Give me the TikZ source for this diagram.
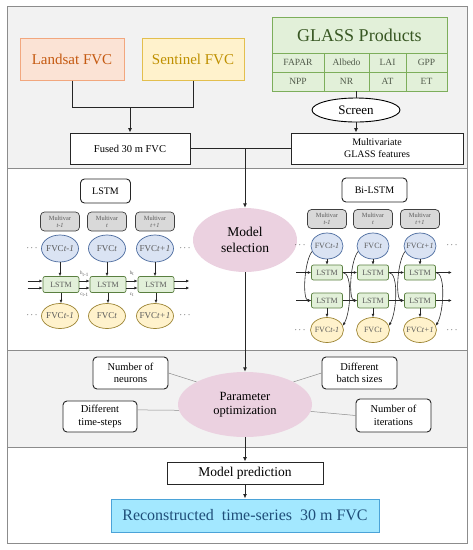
\documentclass[tikz,border=0pt]{standalone}
\usepackage{fontspec}
\setmainfont{Liberation Serif}
\usetikzlibrary{arrows.meta, positioning, shapes.geometric, calc}
\definecolor{bggray}{HTML}{F2F2F2}
\definecolor{framegray}{HTML}{8C8C8C}
\definecolor{lsfill}{HTML}{FBE3D5}
\definecolor{lsdraw}{HTML}{F2A77E}
\definecolor{lstext}{HTML}{C55A11}
\definecolor{snfill}{HTML}{FFF2CC}
\definecolor{sndraw}{HTML}{E3BF4E}
\definecolor{sntext}{HTML}{BF9000}
\definecolor{glfill}{HTML}{E2F0D9}
\definecolor{gldraw}{HTML}{7DAE5B}
\definecolor{gltext}{HTML}{385723}
\definecolor{celltext}{HTML}{505A4A}
\definecolor{mvfill}{HTML}{D9D9D9}
\definecolor{panelgray}{HTML}{595959}
\definecolor{infill}{HTML}{DAE3F3}
\definecolor{indraw}{HTML}{4A6A9E}
\definecolor{cellfill}{HTML}{E2F0D9}
\definecolor{celldraw}{HTML}{5A7F40}
\definecolor{outfill}{HTML}{FFF2CC}
\definecolor{outdraw}{HTML}{9C8433}
\definecolor{pinkfill}{HTML}{EBD1E0}
\definecolor{recfill}{HTML}{A3E8FF}
\definecolor{recdraw}{HTML}{4BA3D8}
\definecolor{rectext}{HTML}{1F4E79}

\tikzset{
  srcbox/.style={draw, line width=1pt, minimum height=42pt, inner sep=0pt, font=\fontsize{15}{17}\selectfont},
  glasscell/.style={draw=gldraw, fill=glfill, line width=0.8pt, minimum height=19pt, inner sep=0pt, text=celltext, font=\fontsize{9.5}{11}\selectfont},
  plainbox/.style={draw=black!85, fill=white, line width=0.9pt, inner sep=0pt, align=center, font=\fontsize{10.5}{12}\selectfont},
  parambox/.style={plainbox, rounded corners=4pt, minimum width=75pt, minimum height=32pt, font=\fontsize{10.5}{12.5}\selectfont},
  titlebox/.style={plainbox, rounded corners=4pt, minimum height=24pt, font=\fontsize{10}{12}\selectfont},
  pinkell/.style={ellipse, fill=pinkfill, inner sep=0pt, align=center},
  multibox/.style={draw=black!75, fill=mvfill, rounded corners=4pt, line width=0.7pt, minimum width=39pt, minimum height=19pt, inner sep=0pt, align=center, text=panelgray, font=\fontsize{6.3}{6.8}\selectfont},
  inell/.style={ellipse, draw=indraw, fill=infill, line width=0.7pt, minimum width=37pt, minimum height=27pt, inner ysep=0pt, inner xsep=-2.5pt, text=panelgray, font=\fontsize{9}{10}\selectfont},
  outell/.style={inell, draw=outdraw, fill=outfill, minimum height=25pt},
  lstmbox/.style={draw=celldraw, fill=cellfill, rounded corners=2pt, line width=0.7pt, minimum width=36pt, minimum height=16pt, inner sep=0pt, text=panelgray, font=\fontsize{8}{9}\selectfont},
  hclabel/.style={inner sep=0pt, text=panelgray, font=\fontsize{5}{5}\selectfont},
  dots/.style={inner sep=0pt, font=\bfseries\small},
  flow/.style={draw=black!85, line width=0.9pt},
  flowarrow/.style={flow, -{Latex[length=4.5pt, width=4pt]}},
  smallarrow/.style={draw=black!85, line width=0.6pt, -{Latex[length=3.2pt, width=2.8pt]}},
  spoke/.style={draw=black!45, line width=0.5pt}
}

\begin{document}
\begin{tikzpicture}[x=1pt, y=-1pt]
  \useasboundingbox (0,0) rectangle (473,550);

  % Bands and frame
  \fill[bggray] (7,6) rectangle (467,168);
  \fill[bggray] (7,350) rectangle (467,447);
  \draw[framegray, line width=0.8pt] (7,6) rectangle (467,543);
  \draw[framegray, line width=0.8pt] (7,168) -- (467,168);
  \draw[framegray, line width=0.8pt] (7,350) -- (467,350);
  \draw[framegray, line width=0.8pt] (7,447) -- (467,447);

  % Data sources
  \node[srcbox, draw=lsdraw, fill=lsfill, text=lstext, minimum width=104pt] (landsat) at (72,59) {Landsat FVC};
  \node[srcbox, draw=sndraw, fill=snfill, text=sntext, minimum width=102pt] (sentinel) at (193,59) {Sentinel FVC};

  % GLASS table
  \node[glasscell, minimum width=175pt, minimum height=36pt, text=gltext, font=\fontsize{18}{20}\selectfont] (glass) at (359.5,35) {GLASS Products};
  \foreach \name/\txt/\x/\w/\y in {gfapar/FAPAR/298/52/62.5, galbedo/Albedo/346.5/45/62.5, glai/LAI/387.5/37/62.5, ggpp/GPP/426.5/41/62.5,
                                   gnpp/NPP/298/52/81.5, gnr/NR/346.5/45/81.5, gat/AT/387.5/37/81.5, get/ET/426.5/41/81.5}
    \node[glasscell, minimum width=\w pt] (\name) at (\x,\y) {\txt};

  \node[ellipse, draw=black, fill=white, line width=0.9pt, minimum width=88pt, minimum height=24pt, inner sep=0pt, font=\fontsize{13}{15}\selectfont] (screen) at (356,110) {Screen};
  \node[plainbox, minimum width=120pt, minimum height=31pt] (fused) at (130,148.5) {Fused 30 m FVC};
  \node[plainbox, minimum width=172pt, minimum height=31pt, font=\fontsize{10}{12}\selectfont] (multi) at (377,148.5) {Multivariate\\GLASS features};

  \coordinate (merge) at (130,107);
  \draw[flow] (landsat.south) |- (merge);
  \draw[flow] (sentinel.south) |- (merge);
  \draw[flowarrow] (merge) -- (fused.north);
  \draw[flow] (screen.north |- gnr.south) -- (screen.north);
  \draw[flowarrow] (screen.south) -- (screen.south |- multi.north);
  \draw[flow] (fused.east) -- (multi.west);

  % Model selection
  \node[pinkell, minimum width=104pt, minimum height=64pt, font=\fontsize{13.5}{15.5}\selectfont] (modsel) at (245,240) {Model\\selection};
  \coordinate (join) at (245,148.5);
  \draw[flowarrow] (join) -- (modsel.north);

  % LSTM
  \node[titlebox, minimum width=50pt] (lstmtitle) at (105.5,191) {LSTM};
  \foreach \i/\x/\lab in {1/60/t-1, 2/107/t, 3/155/t+1} {
    \node[multibox] (lmv\i) at (\x,221.5) {Multivar\\\textit{\lab}};
    \node[inell] (lin\i) at (\x,248.5) {FVC\textit{\lab}};
    \node[lstmbox] (lcell\i) at (\x+1,284.5) {LSTM};
    \node[outell] (lout\i) at (\x,316) {FVC\textit{\lab}};
    \draw[smallarrow] (lin\i) -- (lin\i |- lcell\i.north);
    \draw[smallarrow] (lcell\i) -- (lcell\i |- lout\i.north);
  }
  \foreach \dy in {-3.5,3.5} {
    \draw[smallarrow] ([xshift=-15pt, yshift=\dy pt]lcell1.west) -- ([yshift=\dy pt]lcell1.west);
    \draw[smallarrow] ([yshift=\dy pt]lcell1.east) -- ([yshift=\dy pt]lcell2.west);
    \draw[smallarrow] ([yshift=\dy pt]lcell2.east) -- ([yshift=\dy pt]lcell3.west);
    \draw[smallarrow] ([yshift=\dy pt]lcell3.east) -- ([xshift=15pt, yshift=\dy pt]lcell3.east);
  }
  \node[hclabel] (lh1) at ($(lcell1.east)!0.5!(lcell2.west)+(0,-11)$) {h\textsubscript{t-1}};
  \node[hclabel] (lc1) at ($(lcell1.east)!0.5!(lcell2.west)+(0,10.5)$) {c\textsubscript{t-1}};
  \node[hclabel] (lh2) at ($(lcell2.east)!0.5!(lcell3.west)+(0,-11)$) {h\textsubscript{t}};
  \node[hclabel] (lc2) at ($(lcell2.east)!0.5!(lcell3.west)+(0,10.5)$) {c\textsubscript{t}};
  \node[dots] (ldot1) at (32,248) {$\cdots$};
  \node[dots] (ldot2) at (185,248) {$\cdots$};
  \node[dots] (ldot3) at (32,315) {$\cdots$};
  \node[dots] (ldot4) at (185,315) {$\cdots$};

  % Bi-LSTM
  \node[titlebox, minimum width=65pt] (bititle) at (374.5,190) {Bi-LSTM};
  \foreach \i/\x/\lab in {1/327/t-1, 2/373/t, 3/420/t+1} {
    \node[multibox] (bmv\i) at (\x,219) {Multivar\\\textit{\lab}};
    \node[inell, minimum width=32pt, minimum height=26pt, font=\fontsize{8}{9}\selectfont] (bin\i) at (\x,246) {FVC\textit{\lab}};
    \node[lstmbox, minimum width=31pt, minimum height=15pt] (bup\i) at (\x,272.5) {LSTM};
    \node[lstmbox, minimum width=31pt, minimum height=15pt] (blow\i) at (\x,300.5) {LSTM};
    \node[outell, minimum width=33pt, font=\fontsize{8}{9}\selectfont] (bout\i) at (\x,330) {FVC\textit{\lab}};
    \draw[smallarrow] (bin\i) -- (bup\i);
    \draw[smallarrow] (blow\i) -- (bout\i);
    \draw[smallarrow] (bin\i.200) .. controls +(-8,10) and +(-9,0) .. (blow\i.west);
    \draw[smallarrow] (bup\i.east) .. controls +(10,0) and +(8,-14) .. (bout\i.15);
  }
  \foreach \row in {bup, blow} {
    \draw[smallarrow] ([xshift=-15pt]\row1.west) -- (\row1.west);
    \draw[smallarrow] (\row1.east) -- (\row2.west);
    \draw[smallarrow] (\row2.east) -- (\row3.west);
    \draw[smallarrow] (\row3.east) -- ([xshift=16pt]\row3.east);
  }
  \node[dots] (bdot1) at (300,245) {$\cdots$};
  \node[dots] (bdot2) at (452,245) {$\cdots$};
  \node[dots] (bdot3) at (300,330) {$\cdots$};
  \node[dots] (bdot4) at (452,330) {$\cdots$};

  % Parameter optimization
  \node[pinkell, minimum width=134pt, minimum height=65pt, font=\fontsize{12.5}{14.5}\selectfont] (paropt) at (245,404.5) {Parameter\\optimization};
  \draw[flowarrow] (modsel.south) -- (paropt.north);
  \node[parambox] (neurons) at (130.5,373) {Number of\\neurons};
  \node[parambox] (batch) at (359.5,373) {Different\\batch sizes};
  \node[parambox, minimum width=74pt, minimum height=31pt] (tsteps) at (100,416.5) {Different\\time-steps};
  \node[parambox, minimum height=33pt] (iters) at (393.5,415.5) {Number of\\iterations};
  \draw[spoke] (neurons.east) -- (paropt.155);
  \draw[spoke] (batch.west) -- (paropt.25);
  \draw[spoke] (tsteps.10) -- (paropt.185);
  \draw[spoke] (iters.west) -- (paropt.354);

  % Prediction
  \node[plainbox, minimum width=156pt, minimum height=22pt, font=\fontsize{13.5}{15}\selectfont] (predict) at (245,473) {Model prediction};
  \node[draw=recdraw, fill=recfill, line width=1pt, minimum width=268pt, minimum height=33pt, inner sep=0pt, text=rectext, font=\fontsize{16}{18}\selectfont] (recon) at (245,515.5) {Reconstructed\ \ time-series\ \ 30 m FVC};
  \draw[flowarrow] (paropt.south) -- (predict.north);
  \draw[flowarrow] (predict.south) -- (recon.north);
\end{tikzpicture}
\end{document}
